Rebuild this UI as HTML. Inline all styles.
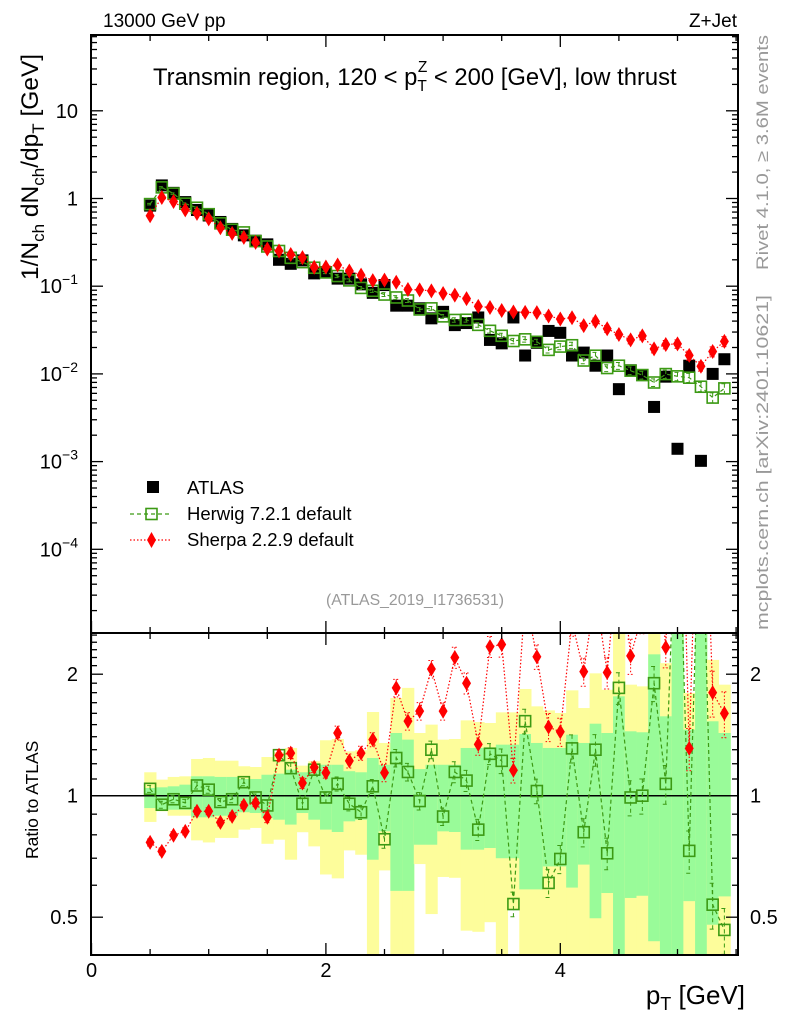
<!DOCTYPE html>
<html><head><meta charset="utf-8"><style>
html,body{margin:0;padding:0;background:#fff;}
svg{display:block;font-family:"Liberation Sans",sans-serif;}
</style></head><body>
<svg id="chart" width="786" height="1024" viewBox="0 0 786 1024" xmlns="http://www.w3.org/2000/svg">
<defs>
<clipPath id="clipMain"><rect x="91" y="35" width="647" height="598"/></clipPath>
<clipPath id="clipRatio"><rect x="91" y="633" width="647" height="322"/></clipPath>
</defs>
<g id="bands" clip-path="url(#clipRatio)"></g>
<g id="ratioMarks" clip-path="url(#clipRatio)"></g>
<g id="mainMarks" clip-path="url(#clipMain)"></g>
<g id="axes"></g>
<text x="103" y="27" font-size="19">13000 GeV pp</text>
<text x="737" y="27" font-size="19" text-anchor="end">Z+Jet</text>
<text x="153" y="85" font-size="23.8">Transmin region, 120 &lt; p<tspan font-size="15.5" dy="6">T</tspan><tspan font-size="15.5" dx="-9" dy="-19">Z</tspan><tspan dy="13"> &lt; 200 [GeV], low thrust</tspan></text>
<text transform="translate(38,280) rotate(-90)" font-size="24.5">1/N<tspan font-size="17" dy="6">ch</tspan><tspan dy="-6"> dN</tspan><tspan font-size="17" dy="6">ch</tspan><tspan dy="-6">/dp</tspan><tspan font-size="17" dy="6">T</tspan><tspan dy="-6"> [GeV]</tspan></text>
<text transform="translate(38,859) rotate(-90)" font-size="17.5">Ratio to ATLAS</text>
<text x="745" y="1004" font-size="26" text-anchor="end">p<tspan font-size="18" dy="6">T</tspan><tspan dy="-6"> [GeV]</tspan></text>
<text transform="translate(768,270) rotate(-90)" font-size="17" fill="#999" textLength="235" lengthAdjust="spacingAndGlyphs">Rivet 4.1.0, ≥ 3.6M events</text>
<text transform="translate(768,630) rotate(-90)" font-size="17" fill="#999" textLength="335" lengthAdjust="spacingAndGlyphs">mcplots.cern.ch [arXiv:2401.10621]</text>
<text x="415" y="605" font-size="15.8" fill="#999" text-anchor="middle">(ATLAS_2019_I1736531)</text>
<g>
<rect x="147" y="481" width="12" height="12" fill="#000"/>
<text x="187" y="494" font-size="18.5">ATLAS</text>
<line x1="130" y1="514" x2="172" y2="514" stroke="#3c9a14" stroke-width="1.2" stroke-dasharray="4,3"/>
<rect x="146" y="508.5" width="11" height="11" fill="none" stroke="#3c9a14" stroke-width="1.6"/>
<text x="187" y="520" font-size="18.5">Herwig 7.2.1 default</text>
<line x1="130" y1="540" x2="172" y2="540" stroke="#f00" stroke-width="1.2" stroke-dasharray="1.5,2"/>
<path d="M151.5,532 L156,540 L151.5,548 L147,540 Z" fill="#f00"/>
<text x="187" y="546" font-size="18.5">Sherpa 2.2.9 default</text>
</g>
</svg>
<script>
const xs=[0.5,0.6,0.7,0.8,0.9,1.0,1.1,1.2,1.3,1.4,1.5,1.6,1.7,1.8,1.9,2.0,2.1,2.2,2.3,2.4,2.5,2.6,2.7,2.8,2.9,3.0,3.1,3.2,3.3,3.4,3.5,3.6,3.7,3.8,3.9,4.0,4.1,4.2,4.3,4.4,4.5,4.6,4.7,4.8,4.9,5.0,5.1,5.2,5.3,5.4];
const atlas=[0.83,1.41,1.16,0.91,0.74,0.64,0.54,0.45,0.38,0.33,0.30,0.20,0.18,0.197,0.14,0.145,0.122,0.122,0.105,0.084,0.103,0.06,0.06,0.056,0.043,0.051,0.036,0.038,0.044,0.0244,0.0223,0.044,0.0162,0.0226,0.0309,0.0294,0.0162,0.0175,0.0124,0.0162,0.0067,0.011,0.0097,0.0042,0.0093,0.0014,0.0124,0.00102,0.0100,0.0147];
const herwigRatio=[1.04,0.95,0.98,0.96,1.06,1.035,0.965,0.98,1.08,0.99,0.946,1.26,1.17,0.955,1.16,0.99,1.07,0.955,0.91,1.055,0.78,1.24,1.145,0.97,1.30,0.888,1.145,1.09,0.824,1.27,1.22,0.539,1.53,1.027,0.608,0.697,1.31,0.812,1.30,0.72,1.85,0.99,1.0,1.90,1.07,6.7,0.73,7.0,0.537,0.465];
const sherpaRatio=[0.766,0.728,0.798,0.816,0.915,0.915,0.859,0.889,0.947,0.959,0.884,1.26,1.275,1.075,1.176,1.14,1.43,1.22,1.275,1.377,1.14,1.85,1.53,1.62,2.06,1.62,2.2,1.9,1.34,2.34,2.37,1.156,3.1,2.21,1.48,1.44,2.7,2.03,3.2,2.02,4.2,2.22,2.8,4.6,2.33,15.7,1.31,12,1.80,1.60];
const mcRelErr=[0.02,0.02,0.02,0.02,0.02,0.02,0.02,0.02,0.02,0.02,0.03,0.03,0.03,0.03,0.03,0.03,0.04,0.04,0.04,0.04,0.05,0.05,0.05,0.05,0.05,0.05,0.06,0.06,0.06,0.06,0.07,0.07,0.07,0.07,0.08,0.08,0.08,0.08,0.09,0.09,0.09,0.1,0.1,0.1,0.11,0.11,0.12,0.12,0.13,0.13];
const greenHi=[1.045,1.049,1.055,1.065,1.117,1.117,1.113,1.113,1.1,1.1,1.127,1.134,1.16,1.143,1.16,1.193,1.193,1.15,1.143,1.24,1.193,1.43,1.377,1.164,1.193,1.193,1.193,1.313,1.313,1.318,1.338,1.338,1.422,1.351,1.313,1.313,1.416,1.351,1.508,1.43,1.763,1.444,1.436,2.24,1.573,3,1.458,3,1.529,1.43];
const greenLo=[0.932,0.923,0.923,0.923,0.884,0.884,0.892,0.892,0.91,0.906,0.88,0.872,0.848,0.906,0.872,0.824,0.813,0.864,0.872,0.694,0.816,0.581,0.581,0.756,0.756,0.816,0.813,0.735,0.735,0.742,0.7,0.7,0.586,0.586,0.668,0.668,0.592,0.675,0.497,0.574,0.3,0.558,0.565,0.436,0.3,0.3,0.548,0.3,0.479,0.563];
const yellowHi=[1.143,1.096,1.113,1.117,1.233,1.24,1.221,1.221,1.183,1.178,1.247,1.281,1.313,1.187,1.217,1.372,1.382,1.288,1.296,1.612,1.351,1.746,1.85,1.43,1.5,1.377,1.382,1.537,1.522,1.514,1.609,1.609,1.838,1.665,1.627,1.603,1.824,1.649,2.01,1.83,3,1.884,1.866,3,2.13,3,1.797,3,2.17,1.884];
const yellowLo=[0.861,0.915,0.892,0.892,0.775,0.766,0.786,0.786,0.824,0.832,0.76,0.778,0.694,0.812,0.749,0.638,0.624,0.732,0.714,0.3,0.653,0.3,0.3,0.677,0.509,0.629,0.626,0.463,0.46,0.486,0.3,0.522,0.3,0.3,0.3,0.3,0.3,0.3,0.3,0.3,0.3,0.3,0.3,0.3,0.3,0.3,0.3,0.3,0.3,0.3];
const mainTickLabels=["10^-4","10^-3","10^-2","10^-1","1","10"];
const ratioTickLabels=["0.5","1","2"];
const xTickLabels=["0","2","4"];

const NS="http://www.w3.org/2000/svg";
const X=v=>91.5+117.2*v;
const YM=v=>198.5-87.7*Math.log10(v);
const YR=r=>795.7-403.6*Math.log10(r);
function mk(parent,tag,attrs){const e=document.createElementNS(NS,tag);for(const k in attrs)e.setAttribute(k,attrs[k]);parent.appendChild(e);return e;}
const bands=document.getElementById('bands'),rm=document.getElementById('ratioMarks'),mm=document.getElementById('mainMarks'),ax=document.getElementById('axes');
const GREEN="#3c9a14";

xs.forEach((x,i)=>{
  const x0=X(x-0.05),x1=X(x+0.05);
  const y=mk(bands,'rect',{x:x0,y:YR(yellowHi[i]),width:x1-x0+0.5,height:YR(yellowLo[i])-YR(yellowHi[i]),fill:'#fdfd9b'});
  
  
  const g=mk(bands,'rect',{x:x0,y:YR(greenHi[i]),width:x1-x0+0.5,height:YR(greenLo[i])-YR(greenHi[i]),fill:'#99fb99'});
  
  
});
const one=mk(rm,'line',{x1:91,x2:738,y1:YR(1),y2:YR(1),stroke:'#000','stroke-width':1.5});



function drawSeries(parent,yf,vals,color,dash,shape,nameBase){
  const pts=vals.map((v,i)=>X(xs[i]).toFixed(1)+','+yf(v).toFixed(1)).join(' ');
  const pl=mk(parent,'polyline',{points:pts,fill:'none',stroke:color,'stroke-width':1.2,'stroke-dasharray':dash});
  
  
  vals.forEach((v,i)=>{
    const cx=X(xs[i]),cy=yf(v),eu=yf(v*(1+mcRelErr[i])),ed=yf(v*(1-mcRelErr[i]));
    const eb=mk(parent,'path',{d:`M${cx},${eu}V${ed}M${cx-3},${eu}h6M${cx-3},${ed}h6`,stroke:color,'stroke-width':1,'stroke-dasharray':dash,fill:'none'});
    
    
    let m;
    if(shape==='sq'){m=mk(parent,'rect',{x:cx-5.5,y:cy-5.5,width:11,height:11,fill:'none',stroke:color,'stroke-width':1.6});}
    else{m=mk(parent,'path',{d:`M${cx},${cy-7.5}L${cx+4.5},${cy}L${cx},${cy+7.5}L${cx-4.5},${cy}Z`,fill:color});}
    
    
  });
}
atlas.forEach((v,i)=>{
  const r=mk(mm,'rect',{x:X(xs[i])-6,y:YM(v)-6,width:12,height:12,fill:'#000'});
  
  
});
drawSeries(mm,YM,atlas.map((a,i)=>a*herwigRatio[i]),GREEN,'4,3','sq','herwig');
drawSeries(mm,YM,atlas.map((a,i)=>a*sherpaRatio[i]),'#f00','1.5,2','dia','sherpa');
drawSeries(rm,YR,herwigRatio,GREEN,'4,3','sq','herwig-ratio');
drawSeries(rm,YR,sherpaRatio,'#f00','1.5,2','dia','sherpa-ratio');

[[35,598],[633,322]].forEach(([y,h],k)=>{
  const f=mk(ax,'rect',{x:91,y:y,width:647,height:h,fill:'none',stroke:'#000','stroke-width':2});
  
  
});
function tick(x1,y1,x2,y2){const t=mk(ax,'line',{x1,y1,x2,y2,stroke:'#000','stroke-width':1.3});}
for(let v=0;v<=5.5;v+=0.5){
  const x=X(v),maj=Math.abs(v%2)<1e-6;
  const L=maj?12:6;
  tick(x,35,x,35+L);tick(x,633,x,633-L);tick(x,633,x,633+L);tick(x,955,x,955-L);
}
xTickLabels.forEach((s,i)=>{
  const t=mk(ax,'text',{x:X(i*2),y:977,'font-size':20,'text-anchor':'middle'});t.textContent=s;
  
  
});
for(let e=-5;e<=1;e++){for(let m=1;m<=9;m++){const v=m*Math.pow(10,e);const y=YM(v);if(y<35||y>633)continue;const L=m===1?12:6;tick(91,y,91+L,y);tick(738,y,738-L,y);}}
mainTickLabels.forEach((s,i)=>{
  const e=i-4,y=YM(Math.pow(10,e))+7;
  const t=mk(ax,'text',{x:78,y:y,'font-size':20,'text-anchor':'end'});
  
  
  if(s.indexOf('^')>=0){const [b,p]=s.split('^');t.appendChild(document.createTextNode(b));const ts=mk(t,'tspan',{'font-size':14,dy:-9});ts.textContent=p.replace('-','\u2212');}
  else t.textContent=s;
});
for(let r=0.4;r<=2.55;r+=0.1){const y=YR(r);if(y<634||y>954)continue;const rr=Math.round(r*10)/10;const maj=(rr===0.5||rr===1||rr===2);const L=maj?12:6;tick(91,y,91+L,y);tick(738,y,738-L,y);}
ratioTickLabels.forEach(s=>{
  const y=YR(parseFloat(s))+7;
  const t=mk(ax,'text',{x:78,y:y,'font-size':20,'text-anchor':'end'});t.textContent=s;
  
  
  const t2=mk(ax,'text',{x:750,y:y,'font-size':20});t2.textContent=s;
  
  
});
</script>
</body></html>
